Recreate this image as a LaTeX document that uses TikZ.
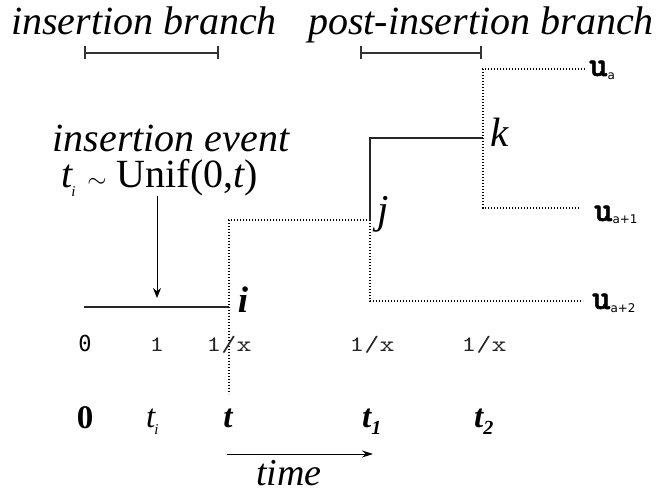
\documentclass[tikz,border=0pt]{standalone}
\usepackage{fontspec}
\setmainfont{Liberation Serif}
\newfontfamily\ratefont[FakeStretch=1.3]{lmmono10-regular.otf}
\newfontfamily\leaffont[FakeBold=1.5]{lmmonolt10-bold.otf}
\newfontfamily\dvsans{DejaVu Sans}
\newfontfamily\dvmono{DejaVu Sans Mono}
\newcommand\leafsub{\fontsize{12}{12}\selectfont\dvsans}
\usetikzlibrary{arrows.meta}
\begin{document}
\begin{tikzpicture}[x=1pt,y=-1pt,
  heading/.style={font=\fontsize{40}{40}\selectfont\itshape, anchor=base, inner sep=0pt},
  event/.style={font=\fontsize{40}{40}\selectfont, inner sep=0pt},
  nodelabel/.style={font=\fontsize{41}{41}\selectfont\itshape, anchor=base, inner sep=0pt},
  rate/.style={font=\fontsize{22}{22}\selectfont\ratefont, text=black!85, anchor=base, inner sep=0pt},
  tick/.style={font=\fontsize{33}{33}\selectfont\bfseries\itshape, anchor=base, inner sep=0pt},
  leaf/.style={font=\fontsize{35}{35}\selectfont\leaffont, anchor=base west, inner sep=0pt},
  solidbranch/.style={draw=black!85, line width=1.2pt},
  dotbranch/.style={draw=black, line width=1.1pt, dash pattern=on 1.3pt off 1.7pt},
  scalebar/.style={draw=black!80, line width=1.1pt},
  pointer/.style={draw=black, line width=1pt, -{Stealth[length=10pt,width=8pt]}}]
\useasboundingbox (0,0) rectangle (662,492);

% headings and scale bars
\node[heading] (hins) at (144,35) {insertion branch};
\node[heading] (hpost) at (481,35) {post-insertion branch};
\coordinate (b1l) at (85,53);  \coordinate (b1r) at (218,53);
\coordinate (b2l) at (361,53); \coordinate (b2r) at (481,53);
\draw[scalebar] (b1l) -- (b1r);
\draw[scalebar] ([yshift=-6.5]b1l) -- ([yshift=6.5]b1l);
\draw[scalebar] ([yshift=-6.5]b1r) -- ([yshift=6.5]b1r);
\draw[scalebar] (b2l) -- (b2r);
\draw[scalebar] ([yshift=-6.5]b2l) -- ([yshift=6.5]b2l);
\draw[scalebar] ([yshift=-6.5]b2r) -- ([yshift=6.5]b2r);

% tree points
\coordinate (root) at (84,307);
\coordinate (i) at (229,307);
\coordinate (ibot) at (229,394);
\coordinate (itop) at (229,220);
\coordinate (j) at (370,220);
\coordinate (jtop) at (370,138);
\coordinate (jbot) at (370,301);
\coordinate (k) at (483,138);
\coordinate (ktop) at (483,69);
\coordinate (kbot) at (483,208);
\coordinate (ua) at (585,69);
\coordinate (ua1) at (580,208);
\coordinate (ua2) at (583,301);

% branches
\draw[solidbranch] (root) -- (i);
\draw[dotbranch] (j) -- (itop) -- (ibot);
\draw[solidbranch] (j) -- (jtop) -- (k);
\draw[dotbranch] (j) -- (jbot) -- (ua2);
\draw[dotbranch] (ua) -- (ktop) -- (kbot) -- (ua1);

% node labels
\node[nodelabel, font=\fontsize{37}{37}\selectfont\bfseries\itshape] (li) at (243,312) {i};
\node[nodelabel] (lj) at (383,224) {j};
\node[nodelabel] (lk) at (500,147) {k};

% leaf labels
\node[leaf] (lua) at (589,76) {u\raisebox{-4pt}{\leafsub a}};
\node[leaf] (lua1) at (594,221) {u\raisebox{-3pt}{\leafsub a+1}};
\node[leaf] (lua2) at (592,309) {u\raisebox{-3pt}{\leafsub a+2}};

% insertion event
\node[event, font=\fontsize{40}{40}\selectfont\itshape, anchor=base] (ev1) at (171,152) {insertion event};
\node[event, anchor=base west] (ev2) at (61,188) {{\itshape t}\kern-1pt\raisebox{-9pt}{\fontsize{15}{15}\selectfont\itshape i}\hspace{12pt}{\fontsize{29}{29}\selectfont$\sim$}\hspace{10pt}Unif(0,{\itshape t})};
\coordinate (evtail) at (157,196);
\coordinate (evtip) at (157,298);
\draw[pointer] (evtail) -- (evtip);

% rates
\node[rate, font=\fontsize{22}{22}\selectfont\dvmono, text=black] (r0) at (85,351) {0};
\node[rate] (r1) at (157,351) {1};
\node[rate] (r2) at (229,351) {1/x};
\node[rate] (r3) at (372,351) {1/x};
\node[rate] (r4) at (484,351) {1/x};

% times
\node[tick, font=\fontsize{33}{33}\selectfont\bfseries] (t0) at (85,428) {0};
\node[tick, font=\fontsize{33}{33}\selectfont\itshape, anchor=base west] (ti) at (146,427) {t\kern-1pt\raisebox{-7pt}{\fontsize{15}{15}\selectfont i}};
\node[tick] (tt) at (228,427) {t};
\node[tick, anchor=base west] (t1) at (362,427) {t\raisebox{-7pt}{\fontsize{20}{20}\selectfont 1}};
\node[tick, anchor=base west] (t2) at (474,427) {t\raisebox{-7pt}{\fontsize{20}{20}\selectfont 2}};

% time axis
\coordinate (tstart) at (227,454);
\coordinate (tend) at (373,454);
\draw[pointer, -{Stealth[length=11pt,width=7pt]}] (tstart) -- (tend);
\node[heading, font=\fontsize{38}{38}\selectfont\itshape] (time) at (289,485) {time};
\end{tikzpicture}
\end{document}
